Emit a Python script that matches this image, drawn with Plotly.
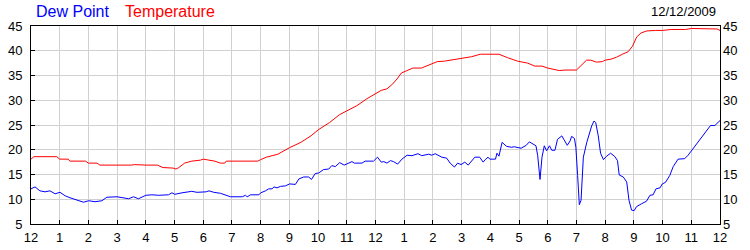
import plotly.graph_objects as go

# ---- data (hours since midnight, degrees) ----
temp_hours = [0.0, 0.1, 0.9, 1.0, 1.3, 1.35, 1.9, 2.0, 2.3, 2.4, 3.5, 3.6, 4.0, 4.4, 4.6, 4.95,
              5.05, 5.15, 5.35, 5.6, 5.9, 6.0, 6.2, 6.4, 6.6, 6.75, 6.8, 7.0, 7.9, 8.0, 8.2, 8.6,
              9.0, 9.4, 9.75, 10.0, 10.4, 10.75, 11.0, 11.35, 11.7, 12.0, 12.2, 12.4, 12.6, 12.75,
              12.9, 13.1, 13.3, 13.6, 13.85, 14.15, 14.4, 14.7, 15.0, 15.35, 15.65, 16.0, 16.3,
              16.6, 16.95, 17.3, 17.55, 17.8, 18.0, 18.4, 18.6, 19.0, 19.2, 19.35, 19.5, 19.7,
              19.9, 20.0, 20.2, 20.4, 20.6, 20.8, 20.95, 21.1, 21.25, 21.45, 21.75, 22.0, 22.3,
              22.8, 23.0, 23.5, 23.9, 24.0]
temperature = [18.1, 18.6, 18.6, 18.1, 18.1, 17.7, 17.7, 17.3, 17.3, 16.9, 16.9, 17.0, 16.9, 16.9,
               16.4, 16.3, 16.1, 16.4, 17.3, 17.7, 17.9, 18.1, 17.9, 17.7, 17.3, 17.3, 17.7, 17.7,
               17.7, 18.0, 18.5, 19.1, 20.4, 21.5, 22.8, 24.0, 25.5, 27.1, 27.8, 28.9, 30.3, 31.3,
               32.0, 32.3, 33.3, 34.3, 35.5, 36.0, 36.5, 36.5, 37.1, 37.8, 37.9, 38.2, 38.5, 38.8,
               39.3, 39.3, 39.3, 38.6, 37.9, 37.5, 36.9, 36.9, 36.5, 36.0, 36.1, 36.1, 37.3, 38.1,
               38.1, 37.7, 37.8, 38.1, 38.3, 38.7, 39.3, 39.8, 40.9, 42.8, 43.6, 44.0, 44.1, 44.1,
               44.3, 44.3, 44.5, 44.5, 44.4, 44.1]

dew_hours = [0.0, 0.14, 0.31, 0.49, 0.66, 0.84, 1.01, 1.19, 1.36, 1.59, 1.83, 2.01, 2.23, 2.47,
             2.64, 3.0, 3.4, 3.57, 3.74, 4.0, 4.21, 4.44, 4.79, 4.91, 5.01, 5.26, 5.6, 5.78, 5.95,
             6.1, 6.2, 6.37, 6.6, 6.78, 6.95, 7.36, 7.47, 7.53, 7.65, 7.94, 8.0, 8.17, 8.28, 8.4,
             8.46, 8.57, 8.69, 8.86, 9.01, 9.21, 9.33, 9.5, 9.67, 9.77, 9.9, 10.02, 10.19, 10.37,
             10.48, 10.6, 10.75, 10.91, 11.0, 11.18, 11.26, 11.53, 11.64, 11.93, 12.07, 12.15,
             12.2, 12.29, 12.4, 12.52, 12.63, 12.77, 12.92, 13.1, 13.27, 13.48, 13.61, 13.85,
             13.96, 14.08, 14.31, 14.48, 14.6, 14.75, 14.86, 14.98, 15.11, 15.23, 15.46, 15.63,
             15.75, 15.84, 15.92, 15.98, 16.18, 16.23, 16.3, 16.41, 16.56, 16.73, 16.84, 17.07,
             17.25, 17.36, 17.48, 17.59, 17.65, 17.73, 17.8, 17.88, 17.96, 18.06, 18.14, 18.25,
             18.34, 18.49, 18.57, 18.68, 18.78, 18.83, 18.93, 18.98, 19.04, 19.1, 19.16, 19.24,
             19.36, 19.44, 19.53, 19.61, 19.67, 19.76, 19.84, 19.94, 20.05, 20.19, 20.34, 20.43,
             20.49, 20.63, 20.75, 20.83, 20.92, 21.01, 21.09, 21.27, 21.44, 21.56, 21.67, 21.77,
             21.91, 21.99, 22.1, 22.25, 22.37, 22.54, 22.77, 22.89, 23.12, 23.35, 23.53, 23.67,
             23.82, 23.94, 24.0]
dew_point = [12.1, 12.5, 11.7, 11.5, 11.7, 11.1, 11.4, 10.7, 10.3, 9.8, 9.4, 9.7, 9.5, 9.7,
             10.4, 10.5, 10.1, 10.5, 10.1, 10.8, 10.9, 10.8, 10.9, 11.3, 11.0, 11.3, 11.6, 11.4,
             11.4, 11.5, 11.7, 11.4, 11.2, 10.8, 10.5, 10.5, 10.8, 10.5, 10.9, 10.9, 11.3, 11.7,
             12.1, 12.1, 12.5, 12.3, 12.6, 12.7, 13.1, 13.0, 14.1, 14.5, 14.5, 14.0, 15.2, 15.3,
             16.0, 16.1, 16.8, 16.6, 17.4, 16.9, 17.1, 17.6, 17.3, 17.3, 17.7, 17.7, 18.5, 17.8,
             17.5, 17.6, 17.3, 17.8, 17.6, 17.1, 18.1, 18.9, 18.8, 19.2, 18.8, 19.1, 18.9, 19.2,
             18.5, 18.3, 17.3, 16.5, 17.3, 17.0, 17.5, 16.9, 18.5, 18.5, 17.5, 18.1, 18.5, 18.1,
             18.1, 19.3, 18.7, 21.5, 20.7, 20.5, 20.6, 20.3, 20.9, 21.6, 21.1, 20.8, 18.8, 14.0,
             18.5, 20.8, 19.8, 20.8, 19.9, 19.9, 22.1, 22.8, 22.0, 20.9, 21.8, 22.7, 22.3, 20.5,
             14.8, 8.9, 9.8, 18.5, 21.5, 23.1, 24.8, 25.8, 25.5, 22.8, 19.3, 18.0, 18.7, 19.3,
             18.6, 17.8, 14.9, 14.5, 13.5, 9.8, 7.8, 7.7, 8.5, 9.1, 9.6, 10.8, 10.9, 12.1, 12.3,
             13.1, 13.4, 14.8, 16.6, 18.1, 18.2, 18.9, 20.6, 22.5, 23.7, 24.9, 24.9, 25.5, 25.9]

x_tick_vals = list(range(0, 25))
x_tick_text = ["12", "1", "2", "3", "4", "5", "6", "7", "8", "9", "10", "11",
               "12", "1", "2", "3", "4", "5", "6", "7", "8", "9", "10", "11", "12"]
y_tick_vals = [5, 10, 15, 20, 25, 30, 35, 40, 45]
date_label = "12/12/2009"
series_names = ["Dew Point", "Temperature"]
series_colors = ["#0000FF", "#FF0000"]

FONT = "Liberation Sans, Arial, sans-serif"

fig = go.Figure()
fig.add_trace(go.Scatter(x=dew_hours, y=dew_point, mode="lines", name=series_names[0],
                         line=dict(color=series_colors[0], width=1)))
fig.add_trace(go.Scatter(x=temp_hours, y=temperature, mode="lines", name=series_names[1],
                         line=dict(color=series_colors[1], width=1)))
# invisible trace to carry the right axis
fig.add_trace(go.Scatter(x=[0], y=[5], yaxis="y2", mode="lines", showlegend=False,
                         hoverinfo="skip", line=dict(width=0)))

common_axis = dict(showline=True, linecolor="black", linewidth=1, mirror=True,
                   ticks="inside", ticklen=4, tickcolor="black", tickwidth=1,
                   showgrid=True, gridcolor="#d0d0d0", gridwidth=1, zeroline=False,
                   automargin=False,
                   tickfont=dict(family=FONT, size=13, color="black"))

fig.update_layout(
    width=750, height=250,
    margin=dict(l=31, r=30, t=26, b=26, autoexpand=False),
    paper_bgcolor="white", plot_bgcolor="white",
    showlegend=False,
    xaxis=dict(range=[0, 24], tickvals=x_tick_vals, ticktext=x_tick_text,
               ticklabelstandoff=1, **common_axis),
    yaxis=dict(range=[5, 45], tickvals=y_tick_vals, ticklabelstandoff=5, **common_axis),
    yaxis2=dict(range=[5, 45], tickvals=y_tick_vals, overlaying="y", side="right",
                showline=False, ticks="", showgrid=False, zeroline=False,
                ticklabelstandoff=2, automargin=False,
                tickfont=dict(family=FONT, size=13, color="black")),
    annotations=[
        dict(text=series_names[0], x=34, y=12, showarrow=False,
             font=dict(family=FONT, size=16, color=series_colors[0]),
             xanchor="left", yanchor="middle"),
        dict(text=series_names[1], x=123, y=12, showarrow=False,
             font=dict(family=FONT, size=16, color=series_colors[1]),
             xanchor="left", yanchor="middle"),
        dict(text=date_label, x=718, y=12, showarrow=False,
             font=dict(family=FONT, size=13, color="black"),
             xanchor="right", yanchor="middle"),
    ],
)

# annotation positions are given in pixels: convert to paper coordinates
pw = 750 - 31 - 30
ph = 250 - 26 - 26
for a in fig.layout.annotations:
    a.xref = "paper"
    a.yref = "paper"
    a.x = (a.x - 31) / pw
    a.y = (250 - 26 - a.y) / ph

fig.write_html("out.html")
